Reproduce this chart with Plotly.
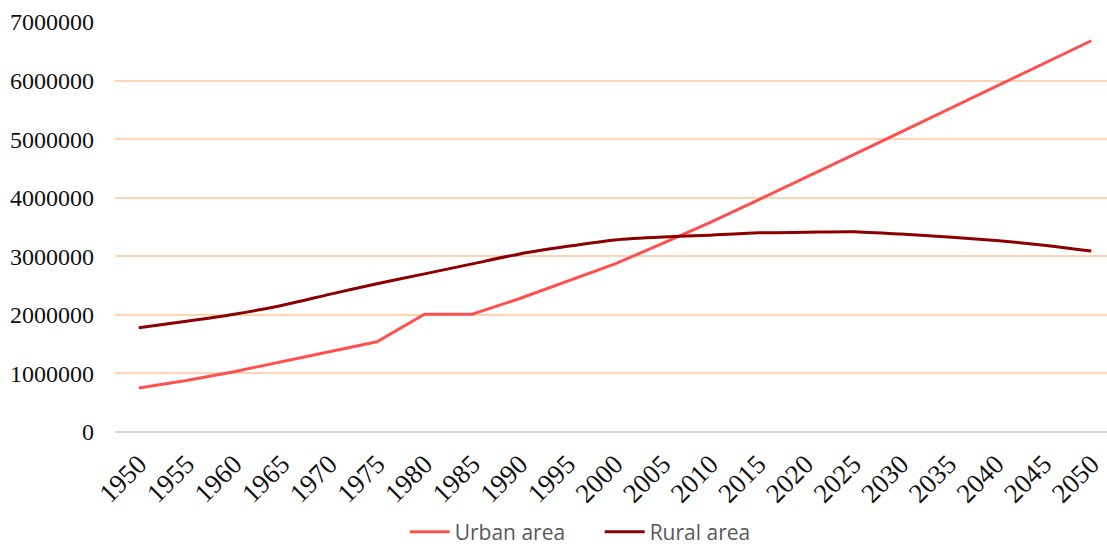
import plotly.graph_objects as go

years = [str(y) for y in range(1950, 2051, 5)]
urban = [750000, 880000, 1030000, 1200000, 1360000, 1540000, 2010000, 2010000,
         2280000, 2570000, 2870000, 3220000, 3580000, 3960000, 4340000, 4730000,
         5120000, 5510000, 5900000, 6290000, 6680000]
rural = [1780000, 1890000, 2010000, 2160000, 2350000, 2530000, 2700000, 2870000,
         3040000, 3170000, 3280000, 3330000, 3360000, 3400000, 3410000, 3420000,
         3380000, 3330000, 3270000, 3190000, 3090000]
y_ticks = [0, 1000000, 2000000, 3000000, 4000000, 5000000, 6000000, 7000000]

fig = go.Figure()
fig.add_trace(go.Scatter(x=years, y=urban, mode="lines", name="Urban area",
                         line=dict(color="#FF5050", width=3)))
fig.add_trace(go.Scatter(x=years, y=rural, mode="lines", name="Rural area",
                         line=dict(color="#8B0000", width=3, shape="spline", smoothing=0.6)))

fig.update_layout(
    width=1107, height=548,
    margin=dict(l=115, r=0, t=22, b=116),
    plot_bgcolor="white", paper_bgcolor="white",
    font=dict(family="Liberation Serif", size=20, color="#111111"),
    xaxis=dict(type="category", range=[-0.5, 20.33], tickangle=-45,
               showgrid=False, showline=False, ticks="", automargin=False,
               ticklabelstandoff=10,
               tickfont=dict(family="Liberation Serif", size=27, color="#111111")),
    yaxis=dict(range=[0, 7000000], tickvals=y_ticks,
               ticktext=[str(v) for v in y_ticks], automargin=False,
               showgrid=True, gridcolor="#FCD5B4", gridwidth=1.5,
               zeroline=True, zerolinecolor="#D9D9D9", zerolinewidth=1.5,
               ticks="", ticklen=0, ticklabelstandoff=20,
               tickfont=dict(family="Liberation Serif", size=24, color="#111111")),
    legend=dict(orientation="h", x=0.292, xanchor="left",
                yref="container", y=0.029, yanchor="middle",
                font=dict(family="Open Sans", size=21, color="#595959"),
                entrywidth=140, entrywidthmode="pixels",
                itemwidth=40, tracegroupgap=0),
)

fig.write_html("out.html")
